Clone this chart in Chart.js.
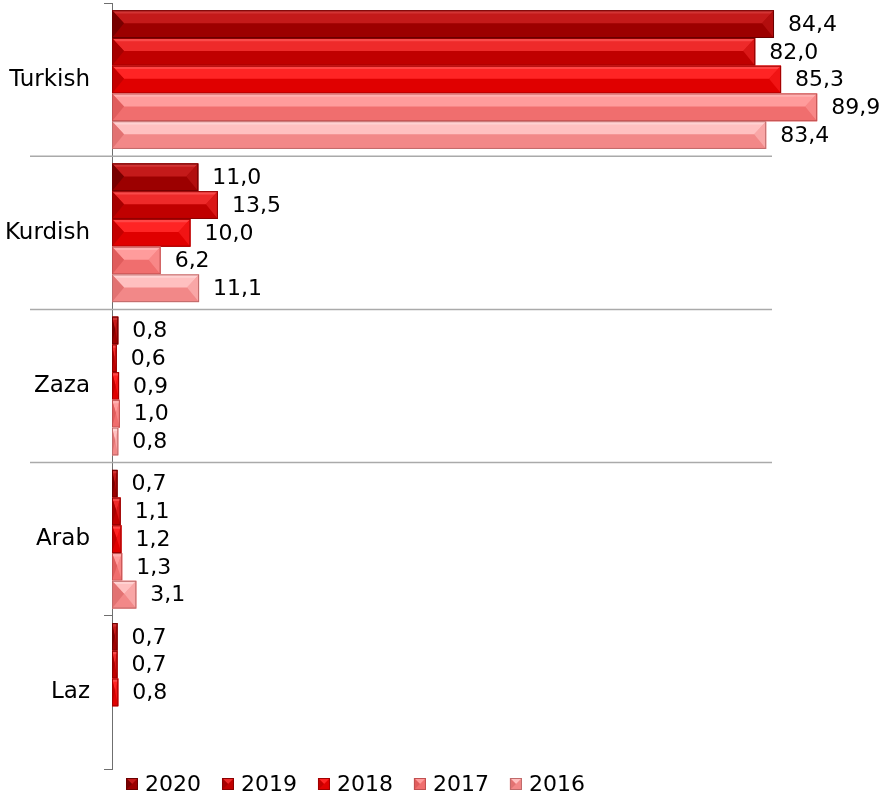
<!DOCTYPE html>
<html>
<head>
<meta charset="utf-8">
<script src="https://cdn.jsdelivr.net/npm/chart.js@4/dist/chart.umd.min.js"></script>
<style>
  html, body { margin: 0; padding: 0; background: #fff; }
  #wrap { width: 881px; height: 800px; }
</style>
</head>
<body>
<div id="wrap"><canvas id="chart" width="881" height="800"></canvas></div>
<script>
// Languages and yearly shares (%)
var languages = ['Turkish', 'Kurdish', 'Zaza', 'Arab', 'Laz'];
var years = ['2020', '2019', '2018', '2017', '2016'];
var values2020 = [84.4, 11.0, 0.8, 0.7, 0.7];
var values2019 = [82.0, 13.5, 0.6, 1.1, 0.7];
var values2018 = [85.3, 10.0, 0.9, 1.2, 0.8];
var values2017 = [89.9, 6.2, 1.0, 1.3, null];
var values2016 = [83.4, 11.1, 0.8, 3.1, null];

var FONT = 'DejaVu Sans, Verdana, sans-serif';

// bevel shades for each year: base, light (top face), hi (top strip), edge, border
var shades = [
  { base: '#9c0000', light: '#c41a1a', hi: '#d23434', edge: '#780000', border: '#6a0000' },
  { base: '#c00000', light: '#ee2a2a', hi: '#fa4a4a', edge: '#a60000', border: '#8a0000' },
  { base: '#e00000', light: '#ff2424', hi: '#ff4646', edge: '#c40000', border: '#a00000' },
  { base: '#f06e6e', light: '#ff9c9c', hi: '#ffb0b0', edge: '#e05c5c', border: '#c05050' },
  { base: '#f28888', light: '#ffc0c0', hi: '#ffd2d2', edge: '#e27272', border: '#c06a6a' }
];

var seriesValues = [values2020, values2019, values2018, values2017, values2016];

var datasets = years.map(function (year, i) {
  return {
    label: year,
    data: seriesValues[i],
    backgroundColor: shades[i].base,
    borderWidth: 0,
    categoryPercentage: 0.905,
    barPercentage: 1.0
  };
});

function fmt(v) {
  return v.toFixed(1).replace('.', ',');
}

function drawBevelBar(ctx, x0, x1, y0, y1, c) {
  var w = x1 - x0, h = y1 - y0;
  var ym = y0 + h * 0.47;
  var b = Math.min(h * 0.45, w / 2, 12);

  ctx.save();
  ctx.fillStyle = c.base;
  ctx.fillRect(x0, y0, w, h);

  // top face
  ctx.fillStyle = c.light;
  ctx.beginPath();
  ctx.moveTo(x0, y0);
  ctx.lineTo(x1, y0);
  ctx.lineTo(x1 - b, ym);
  ctx.lineTo(x0 + b, ym);
  ctx.closePath();
  ctx.fill();

  // highlight strip along the top
  ctx.fillStyle = c.hi;
  ctx.beginPath();
  ctx.moveTo(x0, y0);
  ctx.lineTo(x1, y0);
  ctx.lineTo(x1 - b * 0.3, y0 + h * 0.12);
  ctx.lineTo(x0 + b * 0.3, y0 + h * 0.12);
  ctx.closePath();
  ctx.fill();

  // left face
  ctx.fillStyle = c.edge;
  ctx.beginPath();
  ctx.moveTo(x0, y0);
  ctx.lineTo(x0 + b, ym);
  ctx.lineTo(x0, y1);
  ctx.closePath();
  ctx.fill();

  // right face
  ctx.globalAlpha = 0.55;
  ctx.fillStyle = c.light;
  ctx.beginPath();
  ctx.moveTo(x1, y0);
  ctx.lineTo(x1, y1);
  ctx.lineTo(x1 - b, ym);
  ctx.closePath();
  ctx.fill();
  ctx.globalAlpha = 1;

  ctx.strokeStyle = c.border;
  ctx.lineWidth = 1;
  ctx.strokeRect(x0 + 0.5, y0 + 0.5, Math.max(w - 1, 0), h - 1);
  ctx.restore();
}

// long separator lines between categories
var separatorPlugin = {
  id: 'separators',
  beforeDatasetsDraw: function (chart, args, opts) {
    var yScale = chart.scales.y;
    var ctx = chart.ctx;
    ctx.save();
    ctx.strokeStyle = opts.color;
    ctx.lineWidth = 1.5;
    opts.after.forEach(function (i) {
      var y = (yScale.getPixelForTick(i) + yScale.getPixelForTick(i + 1)) / 2;
      ctx.beginPath();
      ctx.moveTo(opts.left, y);
      ctx.lineTo(opts.right, y);
      ctx.stroke();
    });
    ctx.restore();
  }
};

// bevel look and value labels
var bevelPlugin = {
  id: 'bevel',
  afterDatasetsDraw: function (chart) {
    var ctx = chart.ctx;
    chart.data.datasets.forEach(function (ds, di) {
      var meta = chart.getDatasetMeta(di);
      meta.data.forEach(function (el, idx) {
        var v = ds.data[idx];
        if (v === null || v === undefined) return;
        var p = el.getProps(['x', 'y', 'base', 'height'], true);
        var y0 = p.y - p.height / 2, y1 = p.y + p.height / 2;
        drawBevelBar(ctx, Math.min(p.base, p.x), Math.max(p.base, p.x), y0, y1, shades[di]);

        ctx.save();
        ctx.fillStyle = '#000';
        ctx.font = '22px ' + FONT;
        ctx.textAlign = 'left';
        ctx.textBaseline = 'middle';
        ctx.fillText(fmt(v), p.x + 14, p.y + 1);
        ctx.restore();
      });
    });
  }
};

// legend under the plot
var legendPlugin = {
  id: 'bevelLegend',
  afterDraw: function (chart, args, opts) {
    var ctx = chart.ctx;
    var x = opts.x;
    var y = opts.y;
    ctx.save();
    ctx.font = '22px ' + FONT;
    ctx.textBaseline = 'middle';
    ctx.textAlign = 'left';
    chart.data.datasets.forEach(function (ds, i) {
      var c = shades[i];
      var s = 12;
      var bx = x, by = y - s / 2;
      ctx.fillStyle = c.base;
      ctx.fillRect(bx, by, s, s);
      ctx.fillStyle = c.light;
      ctx.beginPath();
      ctx.moveTo(bx, by);
      ctx.lineTo(bx + s, by);
      ctx.lineTo(bx + s / 2, by + s / 2);
      ctx.closePath();
      ctx.fill();
      ctx.fillStyle = c.edge;
      ctx.beginPath();
      ctx.moveTo(bx, by);
      ctx.lineTo(bx + s / 2, by + s / 2);
      ctx.lineTo(bx, by + s);
      ctx.closePath();
      ctx.fill();
      ctx.strokeStyle = c.border;
      ctx.lineWidth = 1;
      ctx.strokeRect(bx + 0.5, by + 0.5, s - 1, s - 1);

      ctx.fillStyle = '#000';
      ctx.fillText(ds.label, bx + s + 7, y + 1);
      x += s + 7 + ctx.measureText(ds.label).width + opts.gap;
    });
    ctx.restore();
  }
};

var ctx = document.getElementById('chart').getContext('2d');
var chart = new Chart(ctx, {
  type: 'bar',
  data: {
    labels: languages,
    datasets: datasets
  },
  options: {
    indexAxis: 'y',
    responsive: false,
    animation: false,
    devicePixelRatio: 1,
    layout: {
      padding: { top: 3, bottom: 31, left: 0, right: 16 }
    },
    scales: {
      x: {
        display: false,
        min: 0,
        max: 96
      },
      y: {
        grid: {
          offset: true,
          drawOnChartArea: false,
          drawTicks: true,
          tickLength: 8,
          color: '#6f6f6f'
        },
        border: { color: '#6f6f6f', width: 1 },
        ticks: {
          color: '#000',
          font: { family: FONT, size: 23 },
          padding: 14
        },
        afterFit: function (scale) {
          scale.width = 112;
          scale.paddingTop = 0;
          scale.paddingBottom = 0;
        }
      }
    },
    plugins: {
      legend: { display: false },
      tooltip: { enabled: false },
      separators: { after: [0, 1, 2], left: 30, right: 772, color: '#aaaaaa' },
      bevelLegend: { x: 126, y: 784, gap: 21 }
    }
  },
  plugins: [separatorPlugin, bevelPlugin, legendPlugin]
});
</script>
</body>
</html>
